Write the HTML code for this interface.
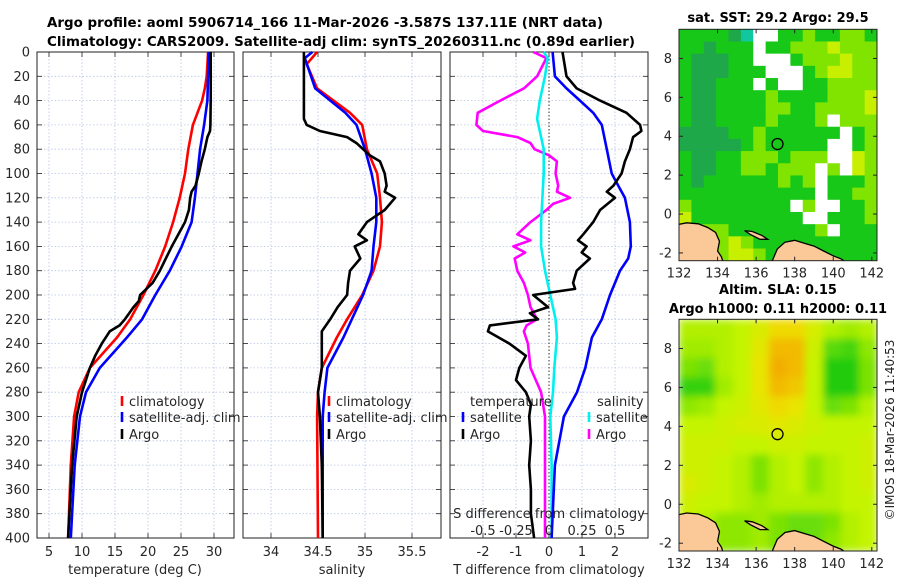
<!DOCTYPE html>
<html><head><meta charset="utf-8">
<style>
html,body{margin:0;padding:0;background:#fff;}
svg{display:block;font-family:"DejaVu Sans","Liberation Sans",sans-serif;}
</style></head>
<body>
<svg id="fig" width="900" height="580" viewBox="0 0 900 580" xmlns="http://www.w3.org/2000/svg">
<g id="titles">
<text x="325" y="27" text-anchor="middle" font-weight="bold" font-size="13" textLength="556" lengthAdjust="spacingAndGlyphs">Argo profile: aoml 5906714_166 11-Mar-2026 -3.587S 137.11E (NRT data)</text>
<text x="341" y="46" text-anchor="middle" font-weight="bold" font-size="13" textLength="588" lengthAdjust="spacingAndGlyphs">Climatology: CARS2009. Satellite-adj clim: synTS_20260311.nc (0.89d earlier)</text>
<text x="778" y="22" text-anchor="middle" font-weight="bold" font-size="13">sat. SST: 29.2 Argo: 29.5</text>
<text x="778" y="294" text-anchor="middle" font-weight="bold" font-size="13">Altim. SLA: 0.15</text>
<text x="778" y="313" text-anchor="middle" font-weight="bold" font-size="13">Argo h1000: 0.11 h2000: 0.11</text>
<text transform="translate(894,430) rotate(-90)" text-anchor="middle" font-size="12" fill="#222">©IMOS 18-Mar-2026 11:40:53</text>
</g>
</svg>
<script>
// ===== Data =====
const tArgoDepth=[0,20,40,60,65,70,80,90,100,110,115,120,130,140,150,160,170,180,190,200,205,210,220,225,230,240,250,260,280,300,340,400];
const tArgoVal=[29.5,29.5,29.5,29.45,29.4,29.0,28.6,28.1,27.7,27.2,26.6,26.4,26.2,25.6,24.6,23.6,22.7,21.8,20.7,18.8,18.6,17.8,16.5,15.7,14.2,13.0,12.0,11.2,10.0,9.2,8.5,7.9];
const tClimDepth=[0,20,30,40,60,80,100,120,140,160,180,200,220,235,260,280,300,340,400];
const tClimVal=[29.1,28.9,28.6,28.2,26.8,26.1,25.6,24.8,23.8,22.6,21.1,19.3,17.3,15.3,11.2,9.5,8.8,8.3,7.9];
const tSatDepth=[0,40,60,80,100,120,140,160,180,200,220,235,260,280,300,340,400];
const tSatVal=[29.2,29.0,28.5,27.9,27.5,27.1,26.6,25.1,23.3,21.1,19.1,16.8,12.7,10.6,9.7,8.9,8.3];
const sArgoDepth=[0,55,60,65,70,75,85,90,100,110,115,120,130,140,150,155,160,170,180,190,200,210,220,230,260,280,300,340,400];
const sArgoVal=[34.35,34.35,34.38,34.52,34.81,34.91,35.05,35.16,35.21,35.23,35.21,35.32,35.21,35.02,34.93,35.02,34.89,34.95,34.84,34.82,34.81,34.71,34.63,34.54,34.54,34.5,34.52,34.54,34.55];
const sClimDepth=[0,10,30,50,60,80,100,120,140,160,180,200,220,235,260,280,300,400];
const sClimVal=[34.49,34.38,34.49,34.84,34.97,35.02,35.13,35.16,35.18,35.16,35.09,34.97,34.81,34.7,34.54,34.5,34.49,34.5];
const sSatDepth=[0,5,30,50,60,80,100,120,140,160,180,200,220,235,260,280,300,400];
const sSatVal=[34.44,34.36,34.47,34.79,34.91,35.0,35.07,35.12,35.12,35.09,35.07,34.98,34.86,34.77,34.6,34.57,34.55,34.55];
const dTArgoDepth=[0,20,30,40,50,60,65,70,80,90,100,110,115,120,130,140,150,155,160,165,170,180,190,195,200,210,215,220,225,230,240,250,260,270,280,290,300,320,340,360,380,400];
const dTArgoVal=[0.41,0.53,0.84,1.55,2.35,2.76,2.8,2.55,2.45,2.3,2.2,1.95,1.75,2.0,1.55,1.34,1.04,0.88,1.14,0.99,1.24,0.84,0.73,0.79,-0.48,-0.03,-0.58,-0.33,-1.79,-1.85,-1.2,-0.7,-0.9,-1.0,-0.7,-0.55,-0.6,-0.55,-0.6,-0.55,-0.55,-0.45];
const dTSatDepth=[0,20,30,40,50,60,80,100,110,120,140,160,170,180,200,220,235,260,280,300,340,400];
const dTSatVal=[0.11,0.18,0.53,0.94,1.34,1.6,1.75,1.9,2.1,2.3,2.45,2.48,2.4,2.15,1.85,1.6,1.3,1.1,0.85,0.45,0.18,0.08];
const dSArgoDepth=[0,5,20,30,40,50,60,65,70,75,80,85,90,100,110,115,120,125,130,140,150,155,160,165,170,180,190,200,210,220,225,230,240,260,270,280,300,340,400];
const dSArgoVal=[-0.12,-0.02,-0.09,-0.19,-0.37,-0.54,-0.55,-0.5,-0.24,-0.14,-0.11,0.0,0.06,0.05,0.07,0.06,0.16,0.03,-0.02,-0.14,-0.24,-0.14,-0.27,-0.18,-0.26,-0.24,-0.19,-0.16,-0.14,-0.09,-0.17,-0.19,-0.16,-0.14,-0.1,-0.06,-0.03,-0.03,-0.03];
const dSSatDepth=[0,5,20,40,55,70,80,100,140,160,180,200,220,235,260,280,300,340,400];
const dSSatVal=[-0.04,-0.01,-0.03,-0.07,-0.09,-0.06,-0.04,-0.04,-0.06,-0.06,-0.03,0.01,0.05,0.06,0.04,0.03,0.01,0.02,0.02];
const depthTicks=[0,20,40,60,80,100,120,140,160,180,200,220,240,260,280,300,320,340,360,380,400];
const tempTicks=[5,10,15,20,25,30];
const salTicks=[34,34.5,35,35.5];
const salTickLabels=["34","34.5","35","35.5"];
const dTTicks=[-2,-1,0,1,2];
const dSTicks=[-0.5,-0.25,0,0.25,0.5];
const dSTickLabels=["-0.5","-0.25","0","0.25","0.5"];
const lonTicks=[132,134,136,138,140,142];
const latTicks=[-2,0,2,4,6,8];
const sstRows=[
"ggggdt..gglggllg",
"ggdggg.gglllylll",
"gdddgg...glllyll",
"gdddggg...glyyll",
"gddggg.g..ggllll",
"gddgggglggggllly",
"gddggggllgglllly",
"gddgggglgggl.lll",
"ddddgglgggggg.gl",
"dddddglggggg..gl",
"gddgglllglll..yl",
"gddggllglll.l.yl",
"gdgggggglgl.gggl",
"ggggggggggg.ggll",
"lgggggggg.l..ggl",
"yggggggggg..gggl",
"llllgggggggl.ggg",
"yyllylgggggggggg",
"yyllyylggggggggg"];
const slaRows=[
[0.45,0.45,0.45,0.5,0.62,0.78,0.78,0.6,0.45,0.4,0.45],
[0.4,0.4,0.45,0.5,0.68,0.9,0.9,0.55,0.2,0.15,0.35],
[0.3,0.25,0.45,0.5,0.72,0.95,0.9,0.5,0.05,0.05,0.3],
[0.1,0.1,0.4,0.5,0.72,0.9,0.85,0.5,0.05,0.05,0.3],
[0.35,0.4,0.5,0.55,0.68,0.78,0.72,0.5,0.25,0.3,0.45],
[0.5,0.5,0.55,0.6,0.62,0.68,0.62,0.55,0.5,0.5,0.5],
[0.55,0.55,0.55,0.5,0.5,0.55,0.55,0.5,0.5,0.5,0.55],
[0.55,0.55,0.5,0.45,0.3,0.45,0.5,0.35,0.45,0.5,0.55],
[0.62,0.55,0.5,0.45,0.3,0.45,0.5,0.35,0.45,0.5,0.55],
[0.55,0.5,0.5,0.45,0.4,0.45,0.45,0.45,0.45,0.5,0.5],
[0.5,0.45,0.35,0.35,0.4,0.3,0.25,0.25,0.3,0.45,0.5],
[0.55,0.45,0.35,0.35,0.4,0.3,0.2,0.25,0.35,0.45,0.5]];
const landWestLon=[131.9,132.4,133.0,133.5,133.9,134.1,134.0,134.2,134.3,131.9];
const landWestLat=[-0.55,-0.45,-0.5,-0.7,-0.95,-1.4,-1.9,-2.2,-2.5,-2.5];
const landEastLon=[136.8,137.1,137.5,138.0,138.5,139.0,139.5,140.0,140.4,140.7,136.8];
const landEastLat=[-2.5,-1.8,-1.45,-1.35,-1.5,-1.65,-1.9,-2.15,-2.3,-2.5,-2.5];
const islandLon=[135.4,135.8,136.3,136.6,136.2,135.7];
const islandLat=[-0.85,-0.9,-1.1,-1.3,-1.3,-1.05];
const argoLon=137.11, argoLat=3.6;

// ===== Drawing =====
const NS="http://www.w3.org/2000/svg";
const svg=document.getElementById('fig');
function mk(tag,attrs,parent){const e=document.createElementNS(NS,tag);for(const k in attrs)e.setAttribute(k,attrs[k]);(parent||svg).appendChild(e);return e;}
const TOP=52,BOT=538;
function yD(d){return TOP+(d/400)*(BOT-TOP);}
function xT(t){return 49+(t-5)*6.6;}
function xS(s){return 271+(s-34)*94;}
function xDT(v){return 549+v*33;}
function xDS(v){return 549+v*132;}
const panels=[{x0:37,x1:234,name:'temperature-panel'},{x0:243,x1:441,name:'salinity-panel'},{x0:450,x1:648,name:'difference-panel'}];

function path(ds,vs,fx,color,name,parent){
  let d='';
  for(let i=0;i<ds.length;i++){d+=(i?'L':'M')+fx(vs[i]).toFixed(1)+','+yD(ds[i]).toFixed(1);}
  const p=mk('path',{d:d,fill:'none',stroke:color,'stroke-width':2.6,'stroke-linejoin':'round'},parent);
  
  
  return p;
}
function txt(x,y,s,anchor,parent,size,fill){const t=mk('text',{x:x,y:y,'text-anchor':anchor||'middle','font-size':size||12,fill:fill||'#262626'},parent);t.textContent=s;return t;}

panels.forEach((P,pi)=>{
  const g=mk('g',{});
  
  
  let vx=[];
  if(pi===0)vx=tempTicks.map(xT);
  if(pi===1)vx=salTicks.map(xS);
  if(pi===2)vx=dTTicks.map(xDT);
  vx.forEach(x=>{const l=mk('line',{x1:x,x2:x,y1:TOP,y2:BOT,stroke:'#b8c4e4','stroke-width':0.8,'stroke-dasharray':'1.5,2'},g);});
  depthTicks.forEach(d=>{const y=yD(d);
    const l=mk('line',{x1:P.x0,x2:P.x1,y1:y,y2:y,stroke:'#b8c4e4','stroke-width':0.8,'stroke-dasharray':'1.5,2'},g);
    
    
    mk('line',{x1:P.x0,x2:P.x0+5,y1:y,y2:y,stroke:'#222','stroke-width':0.8},g);
    mk('line',{x1:P.x1-5,x2:P.x1,y1:y,y2:y,stroke:'#222','stroke-width':0.8},g);
  });
  vx.forEach(x=>{mk('line',{x1:x,x2:x,y1:BOT-5,y2:BOT,stroke:'#222','stroke-width':0.8},g);mk('line',{x1:x,x2:x,y1:TOP,y2:TOP+5,stroke:'#222','stroke-width':0.8},g);});
  if(pi===2){const z=mk('line',{x1:549,x2:549,y1:TOP,y2:BOT,stroke:'#333','stroke-width':1,'stroke-dasharray':'1.5,2'},g);}
  const fr=mk('rect',{x:P.x0,y:TOP,width:P.x1-P.x0,height:BOT-TOP,fill:'none',stroke:'#222','stroke-width':1},g);
  
  
  P.g=g;
});
depthTicks.forEach(d=>{const t=txt(30,yD(d)+4.5,String(d),'end',null,13);});
tempTicks.forEach(v=>{const t=txt(xT(v),556,String(v),'middle',null,13);});
salTicks.forEach((v,i)=>{const t=txt(xS(v),556,salTickLabels[i],'middle',null,13);});
dTTicks.forEach(v=>{const t=txt(xDT(v),556,String(v),'middle',null,13);});
dSTicks.forEach((v,i)=>{const t=txt(xDS(v),535,dSTickLabels[i],'middle',null,13);});
let a;
a=txt(135,574,'temperature (deg C)','middle',null,13);
a=txt(342,574,'salinity','middle',null,13);
a=txt(549,574,'T difference from climatology','middle',null,13);
a=txt(549,518,'S difference from climatology','middle',null,13);

path(tClimDepth,tClimVal,xT,'#ff0000','temp-climatology-line',panels[0].g);
path(tSatDepth,tSatVal,xT,'#0000ff','temp-satellite-line',panels[0].g);
path(tArgoDepth,tArgoVal,xT,'#000000','temp-argo-line',panels[0].g);
path(sClimDepth,sClimVal,xS,'#ff0000','sal-climatology-line',panels[1].g);
path(sSatDepth,sSatVal,xS,'#0000ff','sal-satellite-line',panels[1].g);
path(sArgoDepth,sArgoVal,xS,'#000000','sal-argo-line',panels[1].g);
path(dSArgoDepth,dSArgoVal,xDS,'#ff00ff','sdiff-argo-line',panels[2].g);
path(dSSatDepth,dSSatVal,xDS,'#00f0f0','sdiff-satellite-line',panels[2].g);
path(dTSatDepth,dTSatVal,xDT,'#0000ff','tdiff-satellite-line',panels[2].g);
path(dTArgoDepth,dTArgoVal,xDT,'#000000','tdiff-argo-line',panels[2].g);

function legend(x,y,color,label,name){
  const g=mk('g',{});
  
  
  if(color)mk('line',{x1:x,x2:x,y1:y-10,y2:y,stroke:color,'stroke-width':2.6},g);
  txt(x+7,y,label,'start',g,13);
}
legend(122,406,'#ff0000','climatology','legend-temp-climatology');
legend(122,422,'#0000ff','satellite-adj. clim','legend-temp-satellite');
legend(122,439,'#000000','Argo','legend-temp-argo');
legend(329,406,'#ff0000','climatology','legend-sal-climatology');
legend(329,422,'#0000ff','satellite-adj. clim','legend-sal-satellite');
legend(329,439,'#000000','Argo','legend-sal-argo');
legend(463,406,null,'temperature','legend-tdiff-header');
legend(463,422,'#0000ff','satellite','legend-tdiff-satellite');
legend(463,439,'#000000','Argo','legend-tdiff-argo');
legend(590,406,null,'salinity','legend-sdiff-header');
legend(589,422,'#00f0f0','satellite','legend-sdiff-satellite');
legend(589,439,'#ff00ff','Argo','legend-sdiff-argo');

// ===== Maps =====
const defs=mk('defs',{});
const flt=mk('filter',{id:'blur',x:'-10%',y:'-10%',width:'120%',height:'120%'},defs);
mk('feGaussianBlur',{stdDeviation:4,edgeMode:'duplicate'},flt);
let clipN=0;
function makeMap(y0,y1,name){
  const M={x0:679,x1:877,y0:y0,y1:y1,lon0:132,lon1:142.27,lat0:9.5,lat1:-2.4};
  M.x=lon=>M.x0+(lon-M.lon0)/(M.lon1-M.lon0)*(M.x1-M.x0);
  M.y=lat=>M.y0+(lat-M.lat0)/(M.lat1-M.lat0)*(M.y1-M.y0);
  M.g=mk('g',{});
  
  
  clipN++;
  const cp=mk('clipPath',{id:'mclip'+clipN},defs);
  mk('rect',{x:M.x0,y:M.y0,width:M.x1-M.x0,height:M.y1-M.y0},cp);
  M.inner=mk('g',{'clip-path':'url(#mclip'+clipN+')'},M.g);
  return M;
}
function finishMap(M){
  const g=M.g, gi=M.inner;
  const poly=(lons,lats,nm,fill)=>{const pts=lons.map((l,i)=>M.x(l).toFixed(1)+','+M.y(lats[i]).toFixed(1)).join(' ');const p=mk('polygon',{points:pts,fill:fill,stroke:'#000','stroke-width':1.3},gi);};
  poly(landWestLon,landWestLat,'land-west','#fbc898');
  poly(landEastLon,landEastLat,'land-east','#fbc898');
  poly(islandLon,islandLat,'land-island','#fbc898');
  const c=mk('circle',{cx:M.x(argoLon),cy:M.y(argoLat),r:5.5,fill:'none',stroke:'#000','stroke-width':1.3},g);
  
  
  const fr=mk('rect',{x:M.x0,y:M.y0,width:M.x1-M.x0,height:M.y1-M.y0,fill:'none',stroke:'#222','stroke-width':1},g);
  
  
  lonTicks.forEach(l=>{const x=M.x(l);mk('line',{x1:x,x2:x,y1:M.y1-4,y2:M.y1,stroke:'#222'},g);mk('line',{x1:x,x2:x,y1:M.y0,y2:M.y0+4,stroke:'#222'},g);
    const t=txt(x,M.y1+17,String(l),'middle',g,13);});
  latTicks.forEach(l=>{const y=M.y(l);mk('line',{x1:M.x0,x2:M.x0+4,y1:y,y2:y,stroke:'#222'},g);mk('line',{x1:M.x1-4,x2:M.x1,y1:y,y2:y,stroke:'#222'},g);
    const t=txt(M.x0-7,y+4.5,String(l),'end',g,13);});
}
const sstCol={'.':'#ffffff','d':'#1ea84a','g':'#18c818','l':'#80e400','y':'#c8ee00','t':'#10c8a0'};
const M1=makeMap(29.3,260.7,'sst-map');
const nc1=16,nr1=sstRows.length;
const cw1=(M1.x1-M1.x0)/nc1,ch1=(M1.y1-M1.y0)/nr1;
sstRows.forEach((row,r)=>{for(let c=0;c<nc1;c++){const ch=row[c]||'g';
  const cell=mk('rect',{x:(M1.x0+c*cw1).toFixed(2),y:(M1.y0+r*ch1).toFixed(2),width:(cw1+0.5).toFixed(2),height:(ch1+0.5).toFixed(2),fill:sstCol[ch]},M1.inner);
  
  }});
finishMap(M1);
function slaColor(v){
  const stops=[[0,[16,200,16]],[0.5,[196,244,0]],[0.75,[238,226,0]],[1,[244,160,0]]];
  for(let i=1;i<stops.length;i++){if(v<=stops[i][0]){const a=stops[i-1],b=stops[i];const f=(v-a[0])/(b[0]-a[0]);
    return 'rgb('+a[1].map((x,k)=>Math.round(x+(b[1][k]-x)*f)).join(',')+')';}}
  return 'rgb(244,160,0)';
}
const M2=makeMap(319.3,551,'sla-map');
const slaBlur=mk('g',{filter:'url(#blur)'},M2.inner);
const nc2=slaRows[0].length,nr2=slaRows.length;
const cw2=(M2.x1-M2.x0)/nc2,ch2=(M2.y1-M2.y0)/nr2;
slaRows.forEach((row,r)=>row.forEach((v,c)=>{
  const cell=mk('rect',{x:(M2.x0+c*cw2).toFixed(2),y:(M2.y0+r*ch2).toFixed(2),width:(cw2+0.5).toFixed(2),height:(ch2+0.5).toFixed(2),fill:slaColor(v)},slaBlur);
  
  
}));
finishMap(M2);
</script>
</body></html>
